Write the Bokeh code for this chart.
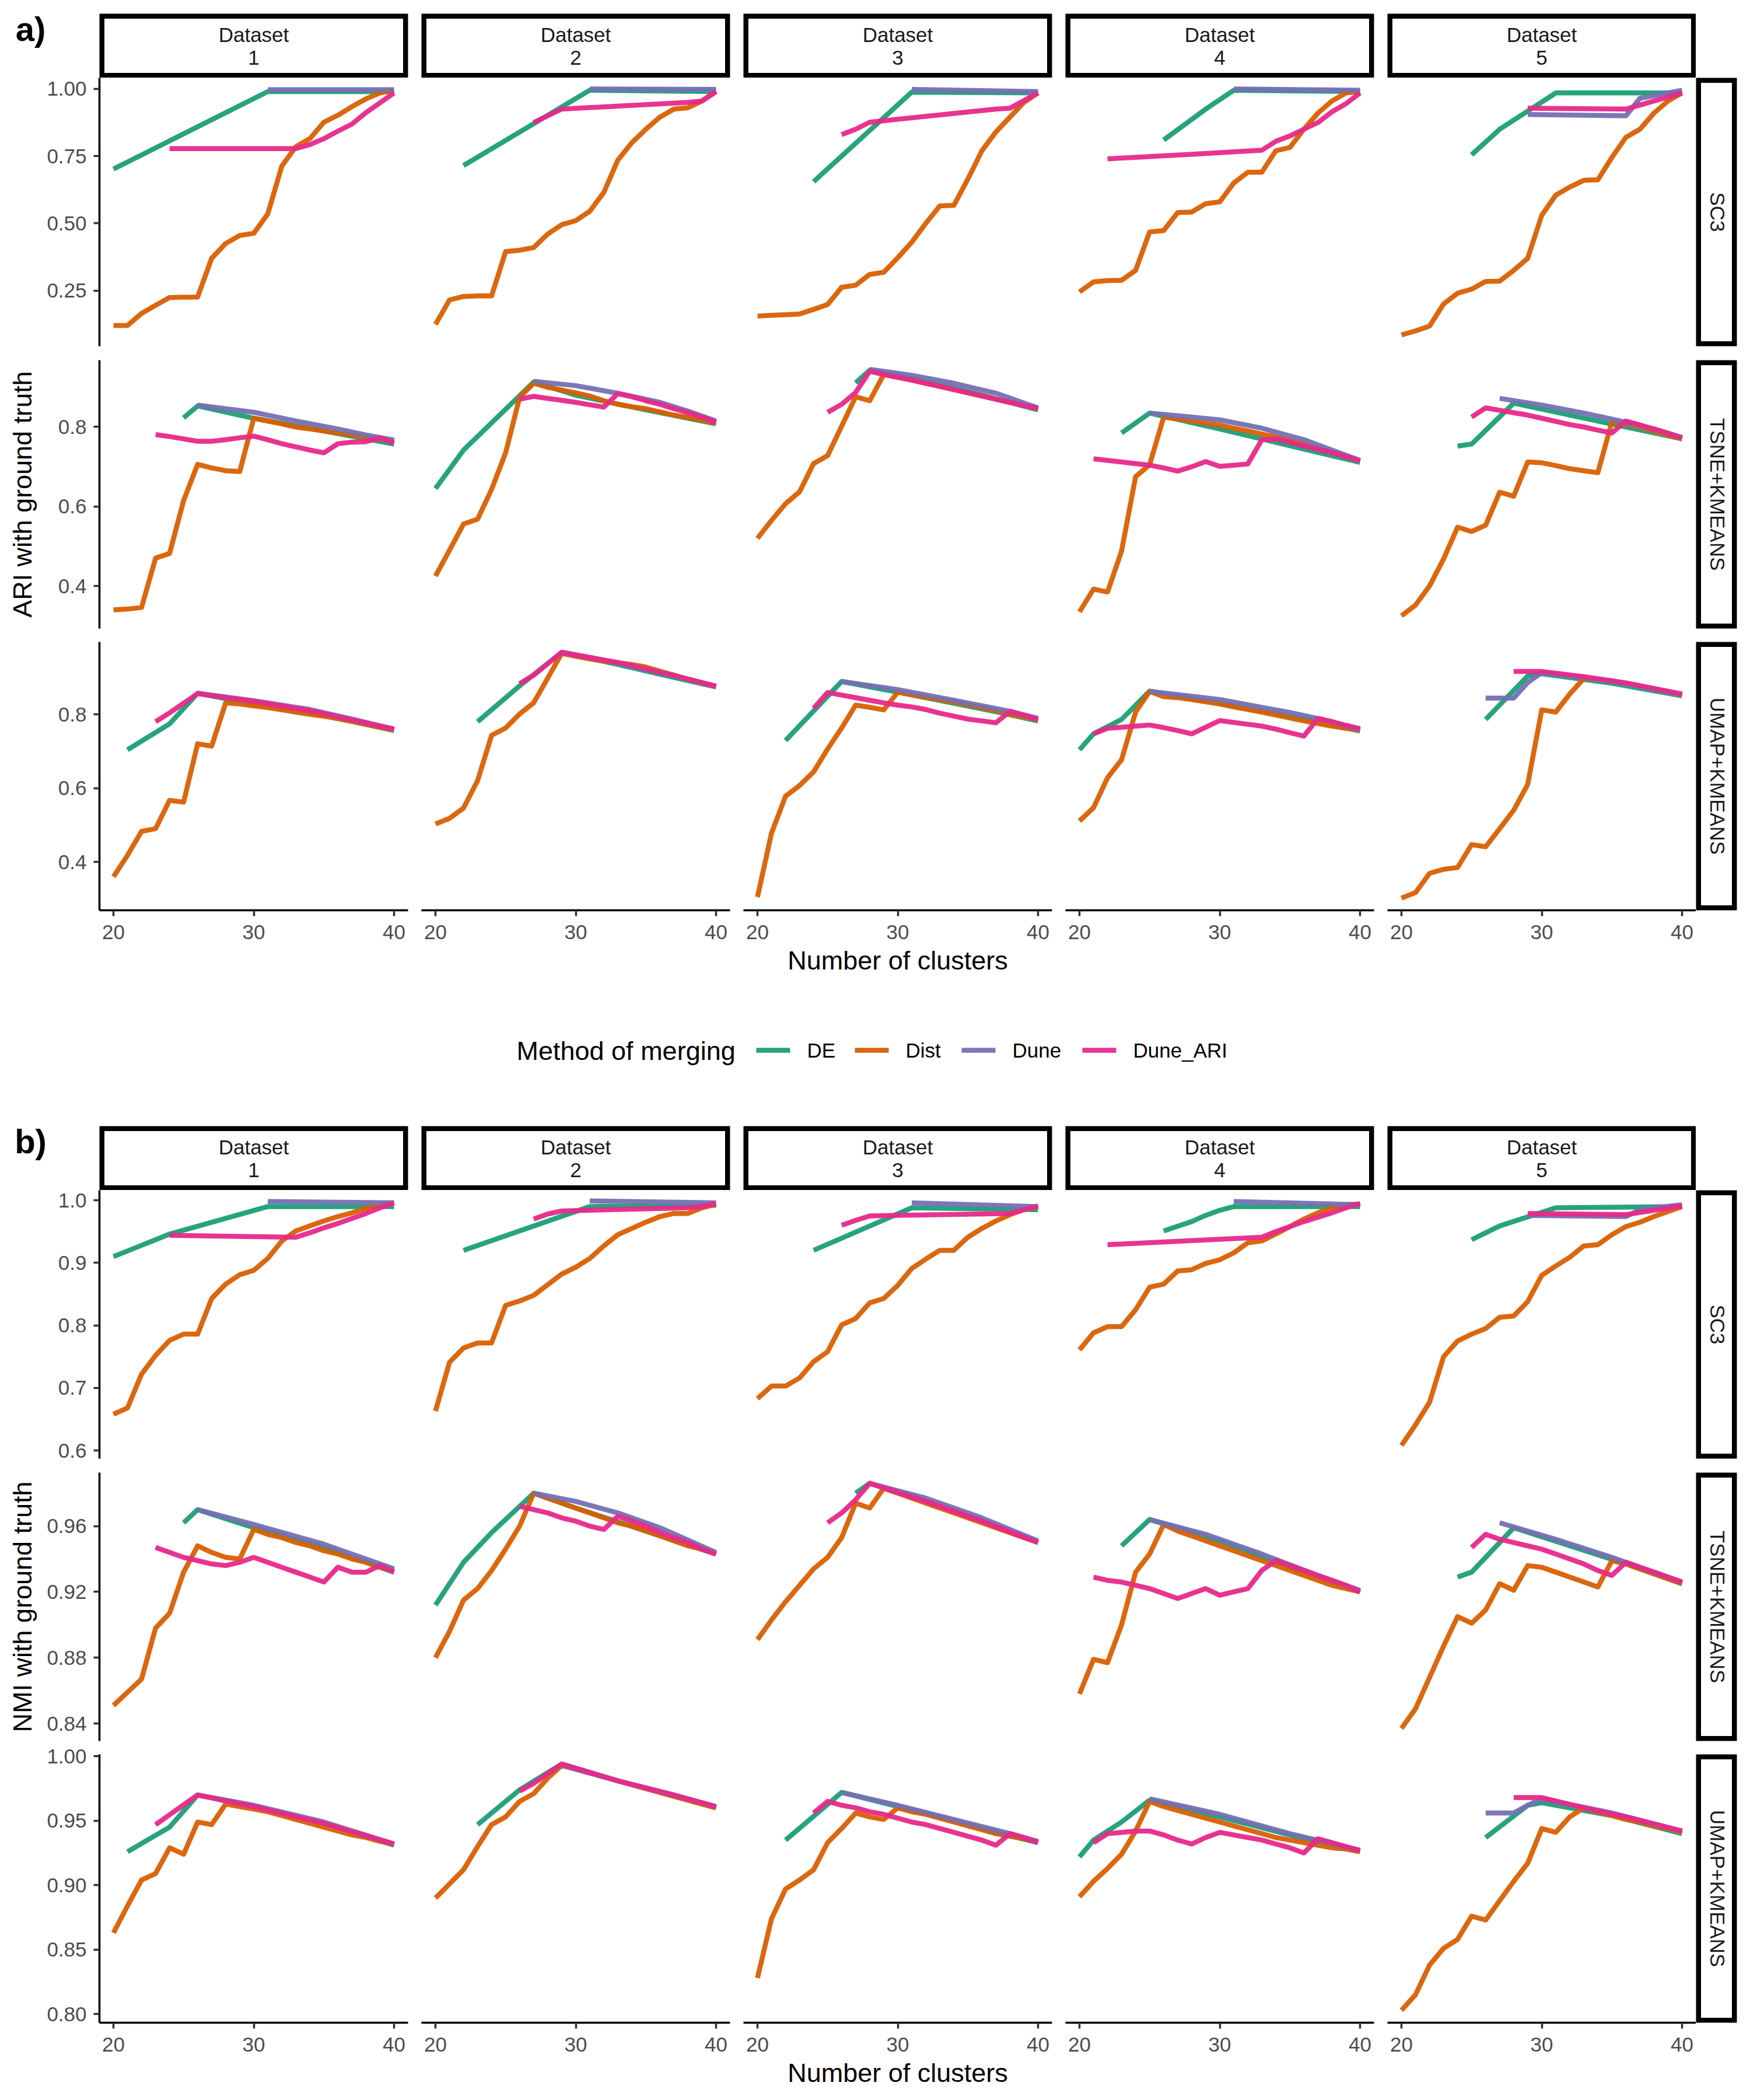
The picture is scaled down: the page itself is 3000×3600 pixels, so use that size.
import math
from bokeh.plotting import figure
from bokeh.layouts import row, column
from bokeh.models import Range1d, LinearAxis, FixedTicker, PrintfTickFormatter
from bokeh.core.properties import value
from bokeh.embed import file_html
from bokeh.resources import INLINE

# ---------------------------------------------------------------- labels
METHODS = ["DE", "Dist", "Dune", "Dune_ARI"]
COLORS = ["#1B9E77", "#D95F02", "#7570B3", "#E7298A"]
DATASET_WORD = "Dataset"
DATASETS = ["1", "2", "3", "4", "5"]
ROW_LABELS = ["SC3", "TSNE+KMEANS", "UMAP+KMEANS"]
PANEL_TAGS = ["a)", "b)"]
Y_TITLES = ["ARI with ground truth", "NMI with ground truth"]
X_TITLE = "Number of clusters"
LEGEND_TITLE = "Method of merging"
X_TICKS = [20, 30, 40]
X_DIST = list(range(20, 41))

ari_y_ranges = [(0.043, 1.041), (0.293, 0.968), (0.269, 0.996)]
ari_y_ticks = [[0.25, 0.50, 0.75, 1.00], [0.4, 0.6, 0.8], [0.4, 0.6, 0.8]]
ari_y_fmt = ["%.2f", "%.1f", "%.1f"]
nmi_y_ranges = [(0.587, 1.016), (0.8294, 0.9925), (0.7933, 1.0015)]
nmi_y_ticks = [[0.6, 0.7, 0.8, 0.9, 1.0], [0.84, 0.88, 0.92, 0.96], [0.80, 0.85, 0.90, 0.95, 1.00]]
nmi_y_fmt = ["%.1f", "%.2f", "%.2f"]

# ---------------------------------------------------------------- ARI / SC3
ari_sc3_dist = [
    [0.12, 0.12, 0.165, 0.195, 0.224, 0.225, 0.226, 0.37, 0.425, 0.455, 0.463, 0.535, 0.713, 0.785, 0.815, 0.876, 0.902, 0.934, 0.963, 0.985, 0.995],
    [0.124, 0.215, 0.228, 0.23, 0.23, 0.395, 0.40, 0.41, 0.46, 0.495, 0.51, 0.545, 0.615, 0.735, 0.80, 0.85, 0.895, 0.925, 0.93, 0.955, 0.99],
    [0.155, 0.158, 0.16, 0.163, 0.18, 0.198, 0.262, 0.27, 0.31, 0.318, 0.372, 0.43, 0.50, 0.565, 0.567, 0.665, 0.77, 0.84, 0.895, 0.95, 0.985],
    [0.245, 0.282, 0.287, 0.288, 0.325, 0.468, 0.473, 0.54, 0.542, 0.573, 0.58, 0.65, 0.69, 0.69, 0.77, 0.782, 0.85, 0.91, 0.955, 0.985, 0.99],
    [0.085, 0.1, 0.118, 0.2, 0.24, 0.255, 0.284, 0.285, 0.325, 0.37, 0.53, 0.605, 0.635, 0.66, 0.662, 0.745, 0.82, 0.85, 0.91, 0.955, 0.985],
]
ari_sc3_de_x = [[20, 25, 31, 40], [22, 31, 40], [24, 31, 40], [26, 29, 31, 40], [25, 27, 31, 40]]
ari_sc3_de_y = [[0.702, 0.833, 0.99, 0.99], [0.715, 0.995, 0.99], [0.655, 0.988, 0.985],
                [0.81, 0.925, 0.995, 0.99], [0.755, 0.85, 0.985, 0.985]]
ari_sc3_dune_x = [[31, 40], [31, 40], [31, 40], [31, 40], [29, 36, 37, 40]]
ari_sc3_dune_y = [[0.997, 0.997], [1.0, 0.998], [0.998, 0.99], [1.0, 0.995], [0.905, 0.90, 0.965, 0.995]]
ari_sc3_da_x = [[24, 33, 34, 35, 36, 37, 38, 39, 40], [27, 29, 38, 39, 40], [26, 27, 28, 37, 38, 40],
                [22, 28, 33, 34, 35, 36, 37, 38, 39, 40], [29, 36, 40]]
ari_sc3_da_y = [[0.778, 0.778, 0.793, 0.815, 0.843, 0.869, 0.912, 0.948, 0.985],
                [0.875, 0.925, 0.95, 0.955, 0.99],
                [0.83, 0.85, 0.876, 0.925, 0.928, 0.985],
                [0.74, 0.757, 0.772, 0.805, 0.825, 0.85, 0.875, 0.915, 0.945, 0.985],
                [0.928, 0.925, 0.985]]

# ---------------------------------------------------------------- ARI / TSNE
ari_tsne_dist = [
    [0.34, 0.342, 0.346, 0.47, 0.482, 0.615, 0.706, 0.697, 0.69, 0.688, 0.822, 0.815, 0.808, 0.80, 0.795, 0.79, 0.785, 0.78, 0.775, 0.77, 0.765],
    [0.425, 0.49, 0.556, 0.568, 0.643, 0.735, 0.875, 0.91, 0.90, 0.893, 0.886, 0.878, 0.866, 0.857, 0.851, 0.846, 0.838, 0.83, 0.824, 0.817, 0.81],
    [0.52, 0.565, 0.607, 0.637, 0.708, 0.728, 0.802, 0.876, 0.866, 0.932, 0.925, 0.918, 0.91, 0.902, 0.894, 0.886, 0.878, 0.87, 0.862, 0.854, 0.846],
    [0.335, 0.392, 0.385, 0.488, 0.675, 0.705, 0.825, 0.82, 0.815, 0.81, 0.805, 0.797, 0.79, 0.782, 0.775, 0.767, 0.757, 0.747, 0.737, 0.726, 0.715],
    [0.325, 0.352, 0.40, 0.468, 0.548, 0.537, 0.553, 0.636, 0.626, 0.712, 0.71, 0.703, 0.695, 0.69, 0.685, 0.813, 0.808, 0.80, 0.79, 0.78, 0.77],
]
ari_tsne_de_x = [[25, 26, 30, 35, 40], [20, 22, 27, 30, 35, 40], [27, 28, 32, 36, 40],
                 [23, 25, 30, 35, 40], [24, 25, 28, 32, 36, 40]]
ari_tsne_de_y = [[0.823, 0.853, 0.822, 0.79, 0.757], [0.645, 0.742, 0.913, 0.88, 0.843, 0.808],
                 [0.911, 0.943, 0.915, 0.88, 0.843], [0.785, 0.835, 0.795, 0.753, 0.711],
                 [0.752, 0.757, 0.86, 0.83, 0.80, 0.77]]
ari_tsne_dune_x = [[26, 30, 33, 36, 38, 40], [27, 30, 33, 36, 38, 40], [28, 31, 34, 37, 40],
                   [25, 28, 30, 33, 36, 40], [27, 30, 33, 35, 38, 40]]
ari_tsne_dune_y = [[0.855, 0.837, 0.815, 0.795, 0.78, 0.767], [0.915, 0.904, 0.885, 0.862, 0.84, 0.815],
                   [0.945, 0.93, 0.91, 0.885, 0.848], [0.835, 0.825, 0.818, 0.797, 0.768, 0.716],
                   [0.872, 0.855, 0.835, 0.82, 0.795, 0.774]]
ari_tsne_da_x = [[23, 24, 25, 26, 27, 28, 29, 30, 31, 32, 33, 34, 35, 36, 37, 38, 39, 40],
                 [26, 27, 28, 29, 30, 31, 32, 33, 34, 35, 36, 37, 38, 39, 40],
                 [25, 26, 27, 28, 29, 30, 31, 32, 33, 34, 35, 36, 37, 38, 39, 40],
                 [21, 24, 25, 26, 27, 28, 29, 30, 31, 32, 33, 34, 35, 36, 37, 38, 39, 40],
                 [25, 26, 27, 28, 29, 30, 31, 32, 33, 34, 35, 36, 37, 38, 39, 40]]
ari_tsne_da_y = [[0.781, 0.776, 0.77, 0.764, 0.764, 0.768, 0.773, 0.777, 0.768, 0.758, 0.75, 0.742, 0.735, 0.758, 0.762, 0.763, 0.772, 0.76],
                 [0.87, 0.877, 0.872, 0.867, 0.862, 0.856, 0.85, 0.884, 0.876, 0.866, 0.857, 0.846, 0.836, 0.825, 0.812],
                 [0.837, 0.857, 0.887, 0.94, 0.932, 0.925, 0.918, 0.91, 0.902, 0.894, 0.886, 0.878, 0.87, 0.862, 0.854, 0.847],
                 [0.72, 0.708, 0.704, 0.697, 0.689, 0.70, 0.713, 0.701, 0.704, 0.707, 0.768, 0.77, 0.762, 0.752, 0.744, 0.735, 0.725, 0.715],
                 [0.825, 0.848, 0.842, 0.836, 0.83, 0.822, 0.814, 0.806, 0.80, 0.792, 0.785, 0.815, 0.805, 0.795, 0.784, 0.772]]

# ---------------------------------------------------------------- ARI / UMAP
ari_umap_dist = [
    [0.36, 0.418, 0.483, 0.49, 0.567, 0.562, 0.72, 0.714, 0.831, 0.828, 0.823, 0.818, 0.812, 0.806, 0.80, 0.795, 0.788, 0.781, 0.773, 0.765, 0.758],
    [0.503, 0.518, 0.546, 0.62, 0.743, 0.763, 0.801, 0.831, 0.898, 0.965, 0.957, 0.95, 0.944, 0.94, 0.935, 0.928, 0.917, 0.906, 0.895, 0.885, 0.875],
    [0.305, 0.478, 0.578, 0.607, 0.644, 0.706, 0.763, 0.825, 0.819, 0.812, 0.86, 0.853, 0.846, 0.84, 0.833, 0.826, 0.818, 0.81, 0.80, 0.793, 0.785],
    [0.511, 0.547, 0.628, 0.677, 0.806, 0.862, 0.848, 0.845, 0.84, 0.834, 0.828, 0.82, 0.813, 0.806, 0.798, 0.79, 0.782, 0.775, 0.768, 0.762, 0.757],
    [0.302, 0.317, 0.369, 0.38, 0.385, 0.447, 0.441, 0.49, 0.54, 0.61, 0.812, 0.806, 0.855, 0.897, 0.895, 0.89, 0.884, 0.877, 0.869, 0.861, 0.852],
]
ari_umap_de_x = [[21, 24, 26, 30, 35, 40], [23, 26, 29, 33, 37, 40], [22, 26, 30, 34, 37, 40],
                 [20, 21, 23, 25, 30, 35, 40], [26, 29, 30, 35, 40]]
ari_umap_de_y = [[0.704, 0.774, 0.857, 0.828, 0.797, 0.756], [0.78, 0.877, 0.968, 0.935, 0.9, 0.874],
                 [0.729, 0.889, 0.86, 0.83, 0.807, 0.782], [0.704, 0.747, 0.786, 0.863, 0.83, 0.795, 0.755],
                 [0.786, 0.904, 0.91, 0.884, 0.85]]
ari_umap_dune_x = [[26, 30, 34, 37, 40], [29, 33, 37, 40], [26, 30, 34, 38, 40], [25, 30, 35, 38, 40],
                   [26, 28, 29, 30, 35, 40]]
ari_umap_dune_y = [[0.857, 0.837, 0.813, 0.787, 0.76], [0.968, 0.94, 0.905, 0.876], [0.889, 0.867, 0.838, 0.808, 0.789],
                   [0.862, 0.84, 0.805, 0.78, 0.758], [0.844, 0.844, 0.886, 0.913, 0.89, 0.853]]
ari_umap_da_x = [[23, 24, 25, 26, 30, 34, 37, 40],
                 [26, 27, 28, 29, 33, 37, 40],
                 [24, 25, 26, 27, 28, 29, 30, 31, 32, 33, 34, 35, 36, 37, 38, 39, 40],
                 [21, 22, 23, 24, 25, 26, 27, 28, 29, 30, 31, 32, 33, 34, 35, 36, 37, 38, 39, 40],
                 [28, 29, 30, 33, 36, 40]]
ari_umap_da_y = [[0.78, 0.804, 0.83, 0.856, 0.835, 0.81, 0.785, 0.76],
                 [0.883, 0.906, 0.937, 0.968, 0.94, 0.905, 0.876],
                 [0.816, 0.859, 0.852, 0.845, 0.838, 0.831, 0.825, 0.82, 0.813, 0.803, 0.795, 0.787, 0.782, 0.777, 0.808, 0.797, 0.786],
                 [0.747, 0.762, 0.765, 0.768, 0.771, 0.764, 0.756, 0.747, 0.765, 0.783, 0.778, 0.773, 0.768, 0.76, 0.75, 0.741, 0.789, 0.78, 0.77, 0.761],
                 [0.916, 0.916, 0.916, 0.902, 0.885, 0.855]]

# ---------------------------------------------------------------- NMI / SC3
nmi_sc3_dist = [
    [0.658, 0.668, 0.722, 0.752, 0.776, 0.786, 0.786, 0.843, 0.866, 0.881, 0.888, 0.907, 0.935, 0.951, 0.959, 0.967, 0.974, 0.98, 0.987, 0.993, 0.996],
    [0.663, 0.741, 0.764, 0.772, 0.772, 0.832, 0.839, 0.848, 0.865, 0.882, 0.893, 0.907, 0.927, 0.945, 0.955, 0.965, 0.974, 0.979, 0.979, 0.988, 0.994],
    [0.683, 0.703, 0.703, 0.716, 0.742, 0.758, 0.801, 0.811, 0.836, 0.843, 0.864, 0.891, 0.906, 0.92, 0.92, 0.941, 0.955, 0.967, 0.977, 0.985, 0.99],
    [0.761, 0.788, 0.798, 0.798, 0.825, 0.861, 0.866, 0.887, 0.889, 0.899, 0.905, 0.916, 0.932, 0.935, 0.946, 0.958, 0.97, 0.98, 0.988, 0.993, 0.994],
    [0.608, 0.641, 0.677, 0.75, 0.775, 0.786, 0.795, 0.813, 0.815, 0.838, 0.88, 0.895, 0.909, 0.927, 0.929, 0.945, 0.958, 0.965, 0.974, 0.982, 0.99],
]
nmi_sc3_de_x = [[20, 24, 31, 40], [22, 31, 40], [24, 31, 40], [26, 28, 29, 30, 31, 40], [25, 27, 31, 40]]
nmi_sc3_de_y = [[0.91, 0.946, 0.99, 0.99], [0.92, 0.99, 0.992], [0.92, 0.988, 0.985],
                [0.951, 0.966, 0.976, 0.984, 0.99, 0.99], [0.937, 0.959, 0.988, 0.99]]
nmi_sc3_dune_x = [[31, 40], [31, 40], [31, 40], [31, 40], [29, 36, 37, 40]]
nmi_sc3_dune_y = [[0.998, 0.996], [0.999, 0.996], [0.996, 0.99], [0.998, 0.993], [0.976, 0.974, 0.985, 0.993]]
nmi_sc3_da_x = [[24, 33, 34, 35, 36, 37, 38, 39, 40], [27, 28, 29, 38, 39, 40], [26, 27, 28, 38, 39, 40],
                [22, 33, 34, 35, 36, 37, 38, 39, 40], [29, 36, 40]]
nmi_sc3_da_y = [[0.944, 0.941, 0.948, 0.956, 0.963, 0.971, 0.979, 0.988, 0.996],
                [0.97, 0.978, 0.983, 0.988, 0.99, 0.995],
                [0.96, 0.968, 0.975, 0.979, 0.985, 0.991],
                [0.929, 0.941, 0.95, 0.958, 0.966, 0.973, 0.98, 0.988, 0.995],
                [0.979, 0.977, 0.991]]

# ---------------------------------------------------------------- NMI / TSNE
nmi_tsne_dist = [
    [0.851, 0.859, 0.867, 0.898, 0.907, 0.932, 0.948, 0.944, 0.941, 0.94, 0.958, 0.955, 0.953, 0.95, 0.948, 0.945, 0.943, 0.94, 0.938, 0.935, 0.933],
    [0.88, 0.896, 0.915, 0.922, 0.933, 0.946, 0.96, 0.98, 0.977, 0.974, 0.971, 0.968, 0.965, 0.962, 0.96, 0.957, 0.954, 0.951, 0.948, 0.946, 0.943],
    [0.891, 0.903, 0.914, 0.924, 0.934, 0.941, 0.953, 0.974, 0.971, 0.983, 0.98, 0.977, 0.974, 0.971, 0.968, 0.965, 0.962, 0.959, 0.956, 0.953, 0.95],
    [0.858, 0.879, 0.877, 0.9, 0.932, 0.943, 0.961, 0.957, 0.954, 0.951, 0.948, 0.945, 0.942, 0.939, 0.936, 0.933, 0.93, 0.927, 0.924, 0.922, 0.92],
    [0.837, 0.849, 0.868, 0.887, 0.905, 0.901, 0.909, 0.925, 0.921, 0.936, 0.935, 0.932, 0.929, 0.926, 0.923, 0.939, 0.937, 0.934, 0.931, 0.928, 0.925],
]
nmi_tsne_de_x = [[25, 26, 30, 35, 40], [20, 22, 24, 27, 30, 35, 40], [27, 28, 32, 36, 40],
                 [23, 25, 30, 35, 40], [24, 25, 28, 32, 36, 40]]
nmi_tsne_de_y = [[0.962, 0.97, 0.959, 0.947, 0.932], [0.912, 0.938, 0.956, 0.98, 0.971, 0.957, 0.943],
                 [0.98, 0.986, 0.975, 0.963, 0.95], [0.948, 0.964, 0.951, 0.935, 0.92],
                 [0.929, 0.932, 0.959, 0.948, 0.937, 0.925]]
nmi_tsne_dune_x = [[26, 30, 35, 40], [27, 30, 33, 36, 40], [28, 32, 36, 40], [25, 29, 33, 37, 40], [27, 31, 35, 40]]
nmi_tsne_dune_y = [[0.97, 0.961, 0.949, 0.934], [0.98, 0.975, 0.968, 0.959, 0.944], [0.986, 0.977, 0.965, 0.951],
                   [0.964, 0.955, 0.943, 0.93, 0.921], [0.962, 0.952, 0.941, 0.926]]
nmi_tsne_da_x = [[23, 24, 25, 26, 27, 28, 29, 30, 31, 32, 33, 34, 35, 36, 37, 38, 39, 40],
                 [26, 27, 28, 29, 30, 31, 32, 33, 34, 35, 36, 37, 38, 39, 40],
                 [25, 26, 27, 28, 32, 36, 40],
                 [21, 22, 23, 24, 25, 26, 27, 28, 29, 30, 31, 32, 33, 34, 35, 36, 37, 38, 39, 40],
                 [25, 26, 27, 28, 29, 30, 31, 32, 33, 34, 35, 36, 37, 38, 39, 40]]
nmi_tsne_da_y = [[0.947, 0.944, 0.941, 0.939, 0.937, 0.936, 0.938, 0.941, 0.938, 0.935, 0.932, 0.929, 0.926, 0.935, 0.932, 0.932, 0.936, 0.932],
                 [0.972, 0.97, 0.968, 0.965, 0.963, 0.96, 0.958, 0.966, 0.963, 0.96, 0.956, 0.953, 0.95, 0.946, 0.943],
                 [0.962, 0.968, 0.976, 0.986, 0.975, 0.963, 0.95],
                 [0.929, 0.927, 0.926, 0.924, 0.922, 0.919, 0.916, 0.919, 0.922, 0.918, 0.92, 0.922, 0.933, 0.939, 0.936, 0.933, 0.93, 0.927, 0.924, 0.92],
                 [0.947, 0.955, 0.952, 0.95, 0.948, 0.946, 0.943, 0.94, 0.937, 0.933, 0.93, 0.938, 0.935, 0.932, 0.929, 0.926]]

# ---------------------------------------------------------------- NMI / UMAP
nmi_umap_dist = [
    [0.863, 0.884, 0.904, 0.909, 0.929, 0.924, 0.949, 0.947, 0.963, 0.961, 0.959, 0.957, 0.954, 0.951, 0.948, 0.945, 0.942, 0.939, 0.937, 0.934, 0.932],
    [0.89, 0.901, 0.912, 0.93, 0.947, 0.953, 0.965, 0.971, 0.983, 0.993, 0.99, 0.987, 0.984, 0.981, 0.978, 0.975, 0.972, 0.969, 0.966, 0.963, 0.96],
    [0.828, 0.874, 0.897, 0.904, 0.912, 0.933, 0.944, 0.956, 0.953, 0.951, 0.96, 0.957, 0.955, 0.952, 0.949, 0.946, 0.943, 0.94, 0.938, 0.936, 0.934],
    [0.891, 0.903, 0.913, 0.924, 0.942, 0.965, 0.961, 0.958, 0.955, 0.952, 0.949, 0.946, 0.943, 0.94, 0.937, 0.935, 0.933, 0.931, 0.929, 0.928, 0.926],
    [0.803, 0.815, 0.838, 0.851, 0.858, 0.876, 0.873, 0.888, 0.903, 0.917, 0.944, 0.941, 0.953, 0.96, 0.957, 0.954, 0.951, 0.949, 0.946, 0.944, 0.941],
]
nmi_umap_de_x = [[21, 24, 26, 30, 35, 40], [23, 26, 29, 33, 37, 40], [22, 26, 30, 34, 37, 40],
                 [20, 21, 23, 25, 30, 35, 40], [26, 29, 30, 35, 40]]
nmi_umap_de_y = [[0.926, 0.945, 0.97, 0.961, 0.948, 0.931], [0.947, 0.974, 0.994, 0.981, 0.969, 0.96],
                 [0.935, 0.972, 0.961, 0.95, 0.941, 0.933], [0.922, 0.935, 0.949, 0.966, 0.953, 0.939, 0.926],
                 [0.937, 0.962, 0.964, 0.954, 0.94]]
nmi_umap_dune_x = [[26, 30, 35, 40], [29, 33, 37, 40], [26, 30, 34, 38, 40], [25, 30, 35, 40], [26, 28, 29, 30, 35, 40]]
nmi_umap_dune_y = [[0.97, 0.962, 0.949, 0.932], [0.993, 0.981, 0.97, 0.961], [0.972, 0.962, 0.951, 0.94, 0.934],
                   [0.967, 0.955, 0.94, 0.927], [0.956, 0.956, 0.962, 0.967, 0.956, 0.942]]
nmi_umap_da_x = [[23, 26, 30, 35, 40],
                 [26, 27, 29, 33, 37, 40],
                 [24, 25, 26, 27, 28, 29, 30, 31, 32, 33, 34, 35, 36, 37, 38, 39, 40],
                 [21, 22, 23, 24, 25, 26, 27, 28, 29, 30, 31, 32, 33, 34, 35, 36, 37, 38, 39, 40],
                 [28, 29, 30, 33, 36, 40]]
nmi_umap_da_y = [[0.947, 0.97, 0.961, 0.948, 0.932],
                 [0.973, 0.979, 0.994, 0.981, 0.97, 0.961],
                 [0.956, 0.965, 0.962, 0.96, 0.957, 0.955, 0.952, 0.949, 0.947, 0.944, 0.941, 0.938, 0.935, 0.931, 0.94, 0.937, 0.933],
                 [0.933, 0.94, 0.941, 0.942, 0.942, 0.939, 0.935, 0.932, 0.937, 0.941, 0.939, 0.937, 0.935, 0.932, 0.929, 0.925, 0.936, 0.933, 0.93, 0.927],
                 [0.968, 0.968, 0.968, 0.96, 0.953, 0.942]]

ARI_ROWS = [
    (ari_sc3_de_x, ari_sc3_de_y, ari_sc3_dist, ari_sc3_dune_x, ari_sc3_dune_y, ari_sc3_da_x, ari_sc3_da_y),
    (ari_tsne_de_x, ari_tsne_de_y, ari_tsne_dist, ari_tsne_dune_x, ari_tsne_dune_y, ari_tsne_da_x, ari_tsne_da_y),
    (ari_umap_de_x, ari_umap_de_y, ari_umap_dist, ari_umap_dune_x, ari_umap_dune_y, ari_umap_da_x, ari_umap_da_y),
]
NMI_ROWS = [
    (nmi_sc3_de_x, nmi_sc3_de_y, nmi_sc3_dist, nmi_sc3_dune_x, nmi_sc3_dune_y, nmi_sc3_da_x, nmi_sc3_da_y),
    (nmi_tsne_de_x, nmi_tsne_de_y, nmi_tsne_dist, nmi_tsne_dune_x, nmi_tsne_dune_y, nmi_tsne_da_x, nmi_tsne_da_y),
    (nmi_umap_de_x, nmi_umap_de_y, nmi_umap_dist, nmi_umap_dune_x, nmi_umap_dune_y, nmi_umap_da_x, nmi_umap_da_y),
]

# ---------------------------------------------------------------- layout / style
FONT = "Liberation Sans"
PANEL_W = 529
PANEL_H = 460
GAP_X = 23
ROW_BOTTOM = [24, 23, 66]
TOP_OVERLAP = 24          # transparent top border, overlapping the element above
LEFT_AXIS_W = 100
YTITLE_W = 70
RSTRIP_W = 70
STRIP_TOP = 23
STRIP_H = 110
BORDER = 8.5
XTITLE_OVERLAP = 14
XTITLE_H = 64
LEGEND_H = 231
LINE_W = 8.5
LINE_ALPHA = 0.95


def base_fig(w, h, xr, yr, left=0, right=0, top=0, bottom=0):
    p = figure(width=w, height=h, x_range=xr, y_range=yr, x_axis_type=None, y_axis_type=None,
               toolbar_location=None, output_backend="svg", min_border=0,
               min_border_left=left, min_border_right=right, min_border_top=top, min_border_bottom=bottom)
    p.outline_line_color = None
    p.background_fill_color = "white"
    p.border_fill_color = "white"
    return p


def style_axis(ax):
    ax.axis_line_width = 3.5
    ax.axis_line_color = "black"
    ax.major_tick_line_color = "#333333"
    ax.major_tick_line_width = 3.5
    ax.major_tick_out = 10
    ax.major_tick_in = 0
    ax.minor_tick_line_color = None
    ax.major_label_text_font = FONT
    ax.major_label_text_font_size = "35px"
    ax.major_label_text_color = "#4D4D4D"


def facet(row_i, col_i, data, yr, ticks, fmt):
    left = LEFT_AXIS_W if col_i == 0 else 0
    right = GAP_X if col_i < 4 else 0
    bottom = ROW_BOTTOM[row_i]
    p = base_fig(left + PANEL_W + right, TOP_OVERLAP + PANEL_H + bottom, Range1d(19, 41), Range1d(*yr),
                 left=left, right=right, top=TOP_OVERLAP, bottom=bottom)
    p.border_fill_alpha = 0
    de_x, de_y, dist, du_x, du_y, da_x, da_y = data
    series = [(de_x[col_i], de_y[col_i]), (X_DIST, dist[col_i]),
              (du_x[col_i], du_y[col_i]), (da_x[col_i], da_y[col_i])]
    for (xs, ys), c in zip(series, COLORS):
        p.line(xs, ys, line_color=c, line_width=LINE_W, line_alpha=LINE_ALPHA, line_join="round")
    if col_i == 0:
        ax = LinearAxis(ticker=FixedTicker(ticks=ticks, minor_ticks=[]),
                        formatter=PrintfTickFormatter(format=fmt))
        style_axis(ax)
        ax.major_label_standoff = 12
        p.add_layout(ax, "left")
    if row_i == 2:
        ax = LinearAxis(ticker=FixedTicker(ticks=X_TICKS, minor_ticks=[]))
        style_axis(ax)
        ax.major_label_standoff = 15
        p.add_layout(ax, "below")
    return p


def right_strip(row_i, label):
    bottom = ROW_BOTTOM[row_i]
    p = base_fig(RSTRIP_W + GAP_X, TOP_OVERLAP + PANEL_H + bottom, Range1d(0, RSTRIP_W), Range1d(0, PANEL_H),
                 right=GAP_X, top=TOP_OVERLAP, bottom=bottom)
    p.border_fill_alpha = 0
    p.background_fill_color = "black"
    p.quad(left=[BORDER], right=[RSTRIP_W - BORDER], bottom=[BORDER], top=[PANEL_H - BORDER],
           fill_color="white", line_color=None)
    p.text(x=[RSTRIP_W / 2 + 2], y=[PANEL_H / 2], text=[label], angle=-math.pi / 2,
           text_align="center", text_baseline="middle", text_font=value(FONT),
           text_font_size="35px", text_color="#1A1A1A")
    return p


def top_strip(col_i, label):
    right = GAP_X if col_i < 4 else 0
    p = base_fig(PANEL_W + right, STRIP_TOP + STRIP_H, Range1d(0, PANEL_W), Range1d(STRIP_H, 0),
                 right=right, top=STRIP_TOP)
    p.background_fill_color = "black"
    p.quad(left=[BORDER], right=[PANEL_W - BORDER], top=[BORDER], bottom=[STRIP_H - BORDER],
           fill_color="white", line_color=None)
    p.text(x=[PANEL_W / 2, PANEL_W / 2], y=[35.5, 75.5], text=[DATASET_WORD, label],
           text_align="center", text_baseline="alphabetic", text_font=value(FONT),
           text_font_size="35px", text_color="#1A1A1A")
    return p


def block(tag, ytitle, rows, yranges, yticks, yfmts):
    corner = base_fig(YTITLE_W + LEFT_AXIS_W, STRIP_TOP + STRIP_H, Range1d(0, YTITLE_W + LEFT_AXIS_W),
                      Range1d(STRIP_TOP + STRIP_H, 0))
    corner.text(x=[52], y=[31], text=[tag], text_align="center", text_baseline="middle",
                text_font=value(FONT), text_font_style="bold", text_font_size="58px", text_color="black")
    strips = row([corner] + [top_strip(i, DATASETS[i]) for i in range(5)])

    facet_rows = []
    for r in range(3):
        figs = [facet(r, c, rows[r], yranges[r], yticks[r], yfmts[r]) for c in range(5)]
        figs.append(right_strip(r, ROW_LABELS[r]))
        fr = row(figs)
        fr.margin = (-TOP_OVERLAP, 0, 0, 0)
        facet_rows.append(fr)
    grid_h = sum(PANEL_H + b for b in ROW_BOTTOM)
    yt = base_fig(YTITLE_W, grid_h, Range1d(0, YTITLE_W), Range1d(grid_h, 0))
    yt.background_fill_alpha = 0
    yt.border_fill_alpha = 0
    yt.text(x=[38], y=[ROW_BOTTOM[0] + PANEL_H + PANEL_H / 2], text=[ytitle], angle=math.pi / 2,
            text_align="center", text_baseline="middle", text_font=value(FONT),
            text_font_size="45px", text_color="black")
    body = row([yt, column(facet_rows)])

    panels_left = YTITLE_W + LEFT_AXIS_W
    panels_right = panels_left + 5 * PANEL_W + 4 * GAP_X
    xt = base_fig(3000, XTITLE_H, Range1d(0, 3000), Range1d(XTITLE_H, 0))
    xt.background_fill_alpha = 0
    xt.border_fill_alpha = 0
    xt.margin = (-XTITLE_OVERLAP, 0, 0, 0)
    xt.text(x=[(panels_left + panels_right) / 2], y=[20 + XTITLE_OVERLAP], text=[X_TITLE],
            text_align="center", text_baseline="alphabetic", text_font=value(FONT),
            text_font_size="45px", text_color="black")
    return column([strips, body, xt])


def legend_fig():
    p = base_fig(3000, LEGEND_H, Range1d(0, 3000), Range1d(LEGEND_H, 0))
    p.text(x=[885], y=[125], text=[LEGEND_TITLE], text_align="left", text_baseline="alphabetic",
           text_font=value(FONT), text_font_size="45px", text_color="black")
    key_x0 = [1296, 1465, 1648, 1855]
    p.segment(x0=key_x0, y0=[124] * 4, x1=[k + 58 for k in key_x0], y1=[124] * 4,
              line_color=COLORS, line_width=LINE_W, line_alpha=LINE_ALPHA)
    p.text(x=[k + 87 for k in key_x0], y=[124] * 4, text=METHODS, text_align="left",
           text_baseline="alphabetic", text_font=value(FONT), text_font_size="35px", text_color="black")
    return p


block_a = block(PANEL_TAGS[0], Y_TITLES[0], ARI_ROWS, ari_y_ranges, ari_y_ticks, ari_y_fmt)
block_b = block(PANEL_TAGS[1], Y_TITLES[1], NMI_ROWS, nmi_y_ranges, nmi_y_ticks, nmi_y_fmt)
page = column([block_a, legend_fig(), block_b])

open("out.html", "w").write(file_html(page, INLINE, title="Method of merging"))
